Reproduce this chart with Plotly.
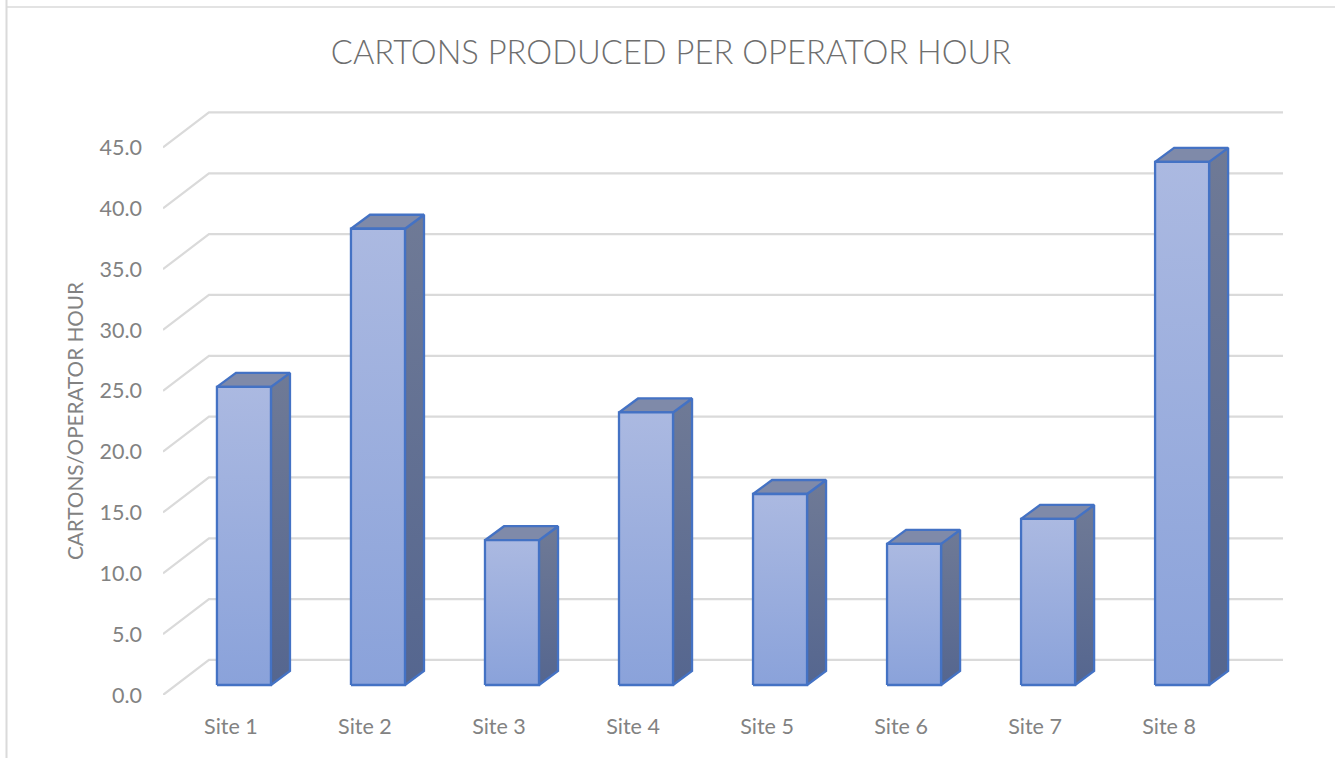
import plotly.graph_objects as go

sites = ["Site 1", "Site 2", "Site 3", "Site 4", "Site 5", "Site 6", "Site 7", "Site 8"]
cartons_per_hour = [24.5, 37.5, 11.9, 22.4, 15.7, 11.6, 13.65, 43.0]
tick_values = [0, 5, 10, 15, 20, 25, 30, 35, 40, 45]
tick_labels = ["0.0", "5.0", "10.0", "15.0", "20.0", "25.0", "30.0", "35.0", "40.0", "45.0"]

FONT = "Lato"
GREY = "#828282"
GRID = "#dadada"
EDGE = "#4472c4"

# oblique projection, in axis units
XMIN, XMAX = -0.507, 7.85
WALL_DX, WALL_DY = 0.343, 2.88
BAR_DX0, BAR_DY0 = 0.097, 0.822
BAR_DX, BAR_DY = 0.142, 1.151
HALF = 0.2015

fig = go.Figure()

for t in tick_values:
    fig.add_trace(go.Scatter(
        x=[XMIN, XMIN + WALL_DX, XMAX], y=[t, t + WALL_DY, t + WALL_DY],
        mode="lines", line=dict(color=GRID, width=2.2), hoverinfo="skip", showlegend=False,
    ))


def face(xs, ys, top=None, bottom=None, solid=None, name=None):
    kw = dict(
        x=xs + xs[:1], y=ys + ys[:1], mode="lines", fill="toself",
        line=dict(color=EDGE, width=2.3), showlegend=False, hoverinfo="skip",
    )
    if solid:
        kw["fillcolor"] = solid
    else:
        kw["fillgradient"] = dict(type="vertical", colorscale=[[0, bottom], [1, top]])
    if name:
        kw["name"] = name
        kw["hoverinfo"] = "x+y+name"
    fig.add_trace(go.Scatter(**kw))


for i, (site, v) in enumerate(zip(sites, cartons_per_hour)):
    l = i + BAR_DX0 - HALF
    r = i + BAR_DX0 + HALF
    b = BAR_DY0
    t = v + BAR_DY0
    face([r, r + BAR_DX, r + BAR_DX, r], [b, b + BAR_DY, t + BAR_DY, t], top="#6f7a96", bottom="#55668f")
    face([l, r, r + BAR_DX, l + BAR_DX], [t, t, t + BAR_DY, t + BAR_DY], solid="#7f8aa9")
    face([l, r, r, l], [b, b, t, t], top="#abb9e1", bottom="#8aa2da", name=site)

fig.update_layout(
    width=1335, height=758, autosize=False,
    margin=dict(l=163, r=52, t=111, b=63),
    paper_bgcolor="white", plot_bgcolor="white",
    font=dict(family=FONT, size=21.5, color=GREY),
    title=dict(
        text="CARTONS PRODUCED PER OPERATOR HOUR", x=671 / 1335, xanchor="center",
        y=1 - 53 / 758, yanchor="middle", font=dict(family=FONT, size=32.7, color="#6e6e6e", weight=300),
    ),
    xaxis=dict(
        range=[XMIN, XMAX], tickvals=list(range(len(sites))), ticktext=sites,
        showgrid=False, zeroline=False, showline=False, ticks="", ticklabelstandoff=16,
    ),
    yaxis=dict(
        range=[0, 48], tickvals=tick_values, ticktext=tick_labels,
        showgrid=False, zeroline=False, showline=False, ticks="",
        ticklabelstandoff=20, ticklabelshift=0,
    ),
    shapes=[
        dict(type="line", xref="paper", yref="paper", x0=-156.5 / 1120, x1=-156.5 / 1120, y0=-0.2, y1=1.2,
             line=dict(color=GRID, width=2)),
    ],
    annotations=[
        dict(text="CARTONS/OPERATOR HOUR", xref="paper", yref="paper",
             x=-88 / 1120, y=(695 - 421) / 584, xanchor="center", yanchor="middle",
             textangle=-90, showarrow=False, font=dict(family=FONT, size=20.7, color=GREY)),
    ],
)
fig.add_shape(type="line", xref="paper", yref="paper", x0=-156.5 / 1120, x1=1.2, y0=1 + 104 / 584, y1=1 + 104 / 584,
              line=dict(color=GRID, width=1.5))

fig.write_html("out.html", config={"displayModeBar": False},
               post_script="document.body.style.margin='0';document.body.style.overflow='hidden';")
